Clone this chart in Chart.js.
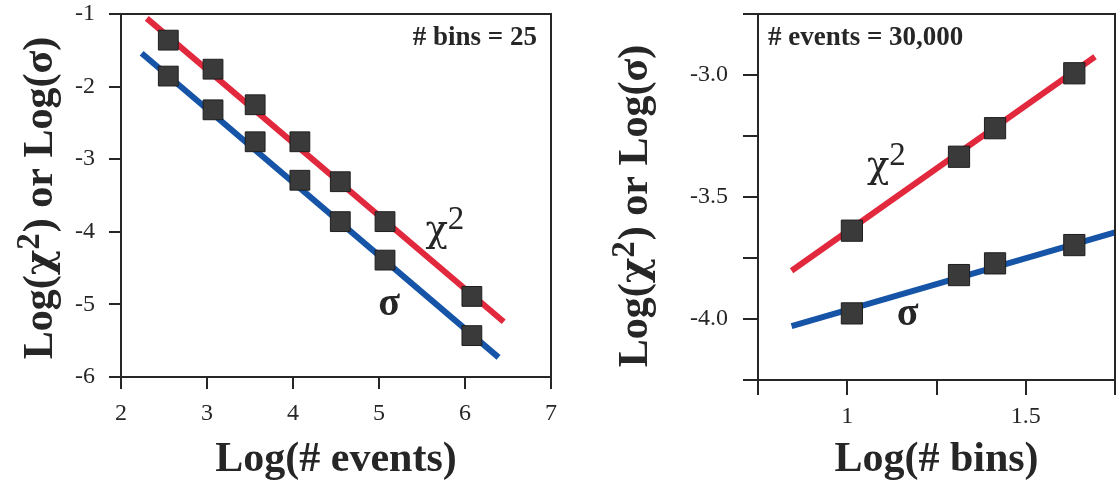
<!DOCTYPE html>
<html>
<head>
<meta charset="utf-8">
<script src="https://cdn.jsdelivr.net/npm/chart.js@4.4.1/dist/chart.umd.min.js"></script>
<style>
  html, body { margin: 0; padding: 0; background: #fff; overflow: hidden; }
  .panel { position: absolute; top: 0; height: 485px; }
  #panel-events { left: 0; width: 560px; }
  #panel-bins { left: 560px; width: 557px; }
</style>
</head>
<body>
<div class="panel" id="panel-events"><canvas id="chart-events"></canvas></div>
<div class="panel" id="panel-bins"><canvas id="chart-bins"></canvas></div>
<script>
(function () {
  'use strict';

  // ── Gauche : # bins = 25, en fonction de Log(# events) ──
  var eventsX = [2.55, 3.07, 3.56, 4.08, 4.55, 5.07, 6.08];
  var eventsChi2 = [-1.36, -1.76, -2.25, -2.76, -3.31, -3.86, -4.89];
  var eventsSigma = [-1.855, -2.32, -2.76, -3.29, -3.86, -4.39, -5.43];
  var eventsFitChi2X = [2.30, 6.45];
  var eventsFitChi2Y = [-1.06, -5.24];
  var eventsFitSigmaX = [2.24, 6.39];
  var eventsFitSigmaY = [-1.54, -5.73];
  var eventsTicksX = [2, 3, 4, 5, 6, 7];
  var eventsLabelsX = ['2', '3', '4', '5', '6', '7'];
  var eventsTicksY = [-6, -5, -4, -3, -2, -1];
  var eventsLabelsY = ['-6', '-5', '-4', '-3', '-2', '-1'];

  // ── Droite : # events = 30,000, en fonction de Log(# bins) ──
  var binsX = [1.013, 1.313, 1.414, 1.636];
  var binsChi2 = [-3.638, -3.335, -3.218, -2.993];
  var binsSigma = [-3.977, -3.82, -3.772, -3.697];
  var binsFitChi2X = [0.844, 1.694];
  var binsFitChi2Y = [-3.802, -2.925];
  var binsFitSigmaX = [0.844, 1.75];
  var binsFitSigmaY = [-4.029, -3.645];
  var binsTicksX = [0.75, 1, 1.25, 1.5, 1.75];
  var binsLabelsX = ['', '1', '', '1.5', ''];
  var binsTicksY = [-4.25, -4, -3.75, -3.5, -3.25, -3, -2.75];
  var binsLabelsY = ['', '-4.0', '', '-3.5', '', '-3.0', ''];

  var ink = '#262626';
  var red = '#e2283c';
  var blue = '#1554a6';
  var serif = "'Liberation Serif', 'DejaVu Serif', serif";
  var greek = "'DejaVu Serif', serif";

  function pts(xs, ys) { return xs.map(function (x, i) { return { x: x, y: ys[i] }; }); }

  function fit(xs, ys, color) {
    return { type: 'scatter', data: pts(xs, ys), showLine: true, borderColor: color, borderWidth: 6,
             pointRadius: 0, pointHoverRadius: 0, clip: 0, order: 2 };
  }

  function marks(xs, ys, r) {
    return { type: 'scatter', data: pts(xs, ys), pointStyle: 'rect', pointRadius: r, pointHoverRadius: r,
             backgroundColor: '#3a3a3a', borderColor: '#1e1e1e', borderWidth: 1, clip: false, order: 1 };
  }

  function axis(o) {
    return {
      type: 'linear', min: o.ticks[0], max: o.ticks[o.ticks.length - 1],
      afterBuildTicks: function (s) { s.ticks = o.ticks.map(function (v) { return { value: v }; }); },
      afterFit: function (s) {
        // la marge du graphe est réglée par layout.padding seul
        s.paddingLeft = s.paddingRight = s.paddingTop = s.paddingBottom = 0;
        if (o.width) s.width = o.width;
        if (o.height) s.height = o.height;
      },
      ticks: { font: { family: serif, size: 24 }, color: ink, padding: o.pad, maxRotation: 0, autoSkip: false,
               callback: function (v, i) { return o.labels[i]; } },
      grid: { drawOnChartArea: false, drawTicks: true, tickLength: o.tick, lineWidth: 2, color: ink },
      border: { display: true, color: ink, width: 2 },
      title: o.title ? { display: true, text: o.title, color: ink, font: { family: serif, size: o.titleSize, weight: 'bold' },
               padding: { top: 0, bottom: 0 } } : { display: false }
    };
  }

  function partFont(p, size, supSize, weight) {
    return weight + ' ' + (p.sup ? supSize : p.greek ? size - 3 : size) + 'px ' + (p.greek ? greek : serif);
  }

  // texte avec exposant, par segments
  function drawRich(ctx, parts, x, y, size, supSize, weight) {
    var cx = x;
    parts.forEach(function (p) {
      ctx.font = partFont(p, size, supSize, weight);
      ctx.fillText(p.t, cx, p.sup ? y - size * 0.3 : y);
      cx += ctx.measureText(p.t).width + (p.sup ? 1 : 0);
    });
    return cx - x;
  }

  function richWidth(ctx, parts, size, supSize, weight) {
    var w = 0;
    parts.forEach(function (p) {
      ctx.font = partFont(p, size, supSize, weight);
      w += ctx.measureText(p.t).width + (p.sup ? 1 : 0);
    });
    return w;
  }

  var yTitle = [{ t: 'Log(' }, { t: 'χ', greek: true }, { t: '2', sup: true }, { t: ') or Log(σ)' }];

  // cadre, titre vertical et textes dans le graphe
  function notes(cfg) {
    return {
      id: 'notes',
      afterDraw: function (chart) {
        var ctx = chart.ctx, a = chart.chartArea;
        ctx.save();
        ctx.strokeStyle = ink;
        ctx.lineWidth = 2;
        ctx.strokeRect(a.left, a.top, a.right - a.left, a.bottom - a.top);
        ctx.fillStyle = ink;
        ctx.textBaseline = 'alphabetic';
        ctx.font = 'bold 27px ' + serif;
        ctx.textAlign = cfg.cornerAlign;
        ctx.fillText(cfg.corner, cfg.cornerAlign === 'right' ? a.right - 14 : a.left + 10, a.top + 31);
        ctx.textAlign = 'left';

        // titre de l'axe y, tourné
        ctx.save();
        ctx.translate(cfg.titleX, cfg.titleY);
        ctx.rotate(-Math.PI / 2);
        var w = richWidth(ctx, yTitle, 42, 33, 'bold');
        drawRich(ctx, yTitle, -w / 2, 14, 42, 33, 'bold');
        ctx.restore();

        cfg.labels.forEach(function (l) {
          var px = chart.scales.x.getPixelForValue(l.x);
          var py = chart.scales.y.getPixelForValue(l.y);
          drawRich(ctx, l.parts, px, py, 40, 33, l.weight);
        });
        ctx.restore();
      }
    };
  }

  function render(id, datasets, scales, plugin) {
    new Chart(document.getElementById(id), {
      type: 'scatter',
      data: { datasets: datasets },
      options: {
        responsive: true, maintainAspectRatio: false, animation: false,
        layout: { padding: scales.padding, autoPadding: false },
        plugins: { legend: { display: false }, tooltip: { enabled: false } },
        events: [],
        scales: { x: scales.x, y: scales.y }
      },
      plugins: [plugin]
    });
  }

  render('chart-events', [
    marks(eventsX, eventsChi2, 14),
    marks(eventsX, eventsSigma, 14),
    fit(eventsFitChi2X, eventsFitChi2Y, red),
    fit(eventsFitSigmaX, eventsFitSigmaY, blue)
  ], {
    padding: { top: 14, right: 9, left: 0, bottom: 0 },
    x: axis({ ticks: eventsTicksX, labels: eventsLabelsX, pad: 10, tick: 12, height: 108,
              title: 'Log(# events)', titleSize: 42 }),
    y: axis({ ticks: eventsTicksY, labels: eventsLabelsY, pad: 14, tick: 12, width: 121 })
  }, notes({
    corner: '# bins = 25', cornerAlign: 'right', titleX: 38, titleY: 198,
    labels: [
      { x: 5.54, y: -4.12, parts: [{ t: 'χ', greek: true }, { t: '2', sup: true }], weight: 'normal' },
      { x: 4.99, y: -5.15, parts: [{ t: 'σ' }], weight: 'bold' }
    ]
  }));

  render('chart-bins', [
    marks(binsX, binsChi2, 15),
    marks(binsX, binsSigma, 15),
    fit(binsFitChi2X, binsFitChi2Y, red),
    fit(binsFitSigmaX, binsFitSigmaY, blue)
  ], {
    padding: { top: 14, right: 2, left: 0, bottom: 0 },
    x: axis({ ticks: binsTicksX, labels: binsLabelsX, pad: 7, tick: 15, height: 105,
              title: 'Log(# bins)', titleSize: 42 }),
    y: axis({ ticks: binsTicksY, labels: binsLabelsY, pad: 15, tick: 15, width: 198 })
  }, notes({
    corner: '# events = 30,000', cornerAlign: 'left', titleX: 73, titleY: 206,
    labels: [
      { x: 1.055, y: -3.42, parts: [{ t: 'χ', greek: true }, { t: '2', sup: true }], weight: 'normal' },
      { x: 1.139, y: -4.025, parts: [{ t: 'σ' }], weight: 'bold' }
    ]
  }));
})();
</script>
</body>
</html>
